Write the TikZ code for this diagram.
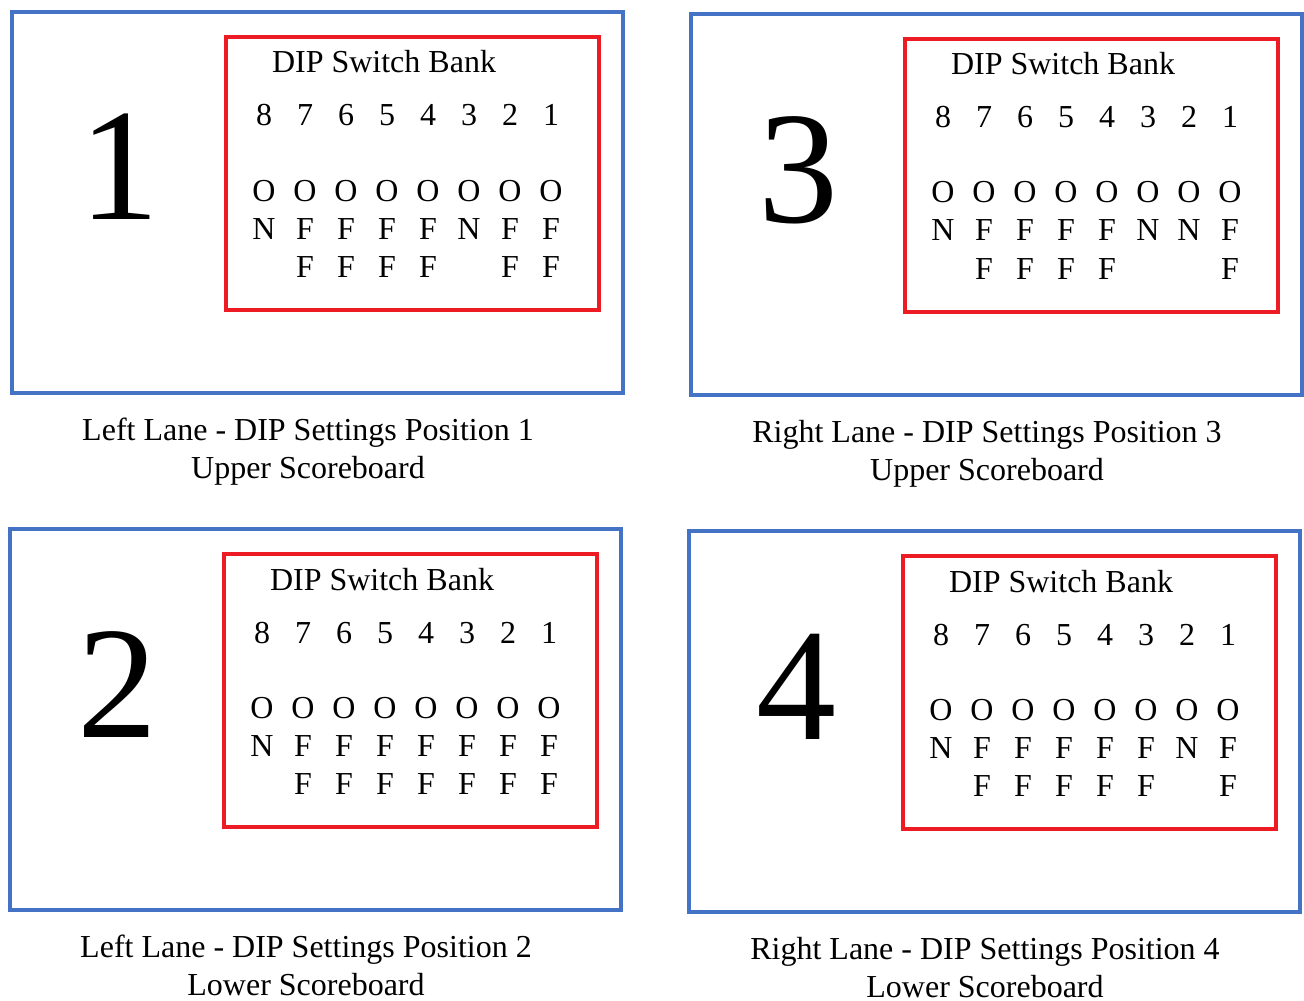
\documentclass[tikz,border=0pt]{standalone}
\usepackage{fontspec}
\setmainfont{Liberation Serif}
\definecolor{laneblue}{RGB}{68,114,196}
\definecolor{bankred}{RGB}{237,28,36}
\tikzset{
  lanebox/.style={draw=laneblue, line width=2pt},
  bankbox/.style={draw=bankred, line width=2pt},
  txt/.style={inner sep=0pt, anchor=base, font=\fontsize{16}{18}\selectfont},
  bignum/.style={inner sep=0pt, anchor=base, font=\fontsize{80}{90}\selectfont},
}
% #1 name, #2/#3 offset, #4 position number, #5 switches 8..1, #6/#7 caption
\newcommand{\dippanel}[7]{%
  \begin{scope}[shift={(#2,#3)}]
    \draw[lanebox] (0,0) rectangle (611,381);
    \draw[bankbox] (214,25) rectangle (587,298);
    \node[bignum] (#1-big) at (107,208) {#4};
    \node[txt] (#1-title) at (372,61) {DIP Switch Bank};
    \foreach \s [count=\i] in {#5} {
      \pgfmathtruncatemacro\sw{9-\i}
      \pgfmathsetmacro\cx{252+41*(\i-1)}
      \node[txt] (#1-n\sw) at (\cx,114) {\sw};
      \node[txt] (#1-o\sw) at (\cx,189) {O};
      \node[txt] (#1-s\sw) at (\cx,227) {\s};
      \if\s F\node[txt] (#1-f\sw) at (\cx,265) {F};\fi
    }
    \node[txt] (#1-cap) at (296,428) {#6};
    \node[txt] (#1-sub) at (296,466) {#7};
  \end{scope}
}
\begin{document}
\begin{tikzpicture}[x=0.5pt, y=-0.5pt]
  \useasboundingbox (0,0) rectangle (1304,1000);
  \dippanel{p1}{12}{12}{1}{N,F,F,F,F,N,F,F}
    {Left Lane - DIP Settings Position 1}{Upper Scoreboard}
  \dippanel{p3}{691}{14}{3}{N,F,F,F,F,N,N,F}
    {Right Lane - DIP Settings Position 3}{Upper Scoreboard}
  \dippanel{p2}{10}{529}{2}{N,F,F,F,F,F,F,F}
    {Left Lane - DIP Settings Position 2}{Lower Scoreboard}
  \dippanel{p4}{689}{531}{4}{N,F,F,F,F,F,N,F}
    {Right Lane - DIP Settings Position 4}{Lower Scoreboard}
\end{tikzpicture}
\end{document}
